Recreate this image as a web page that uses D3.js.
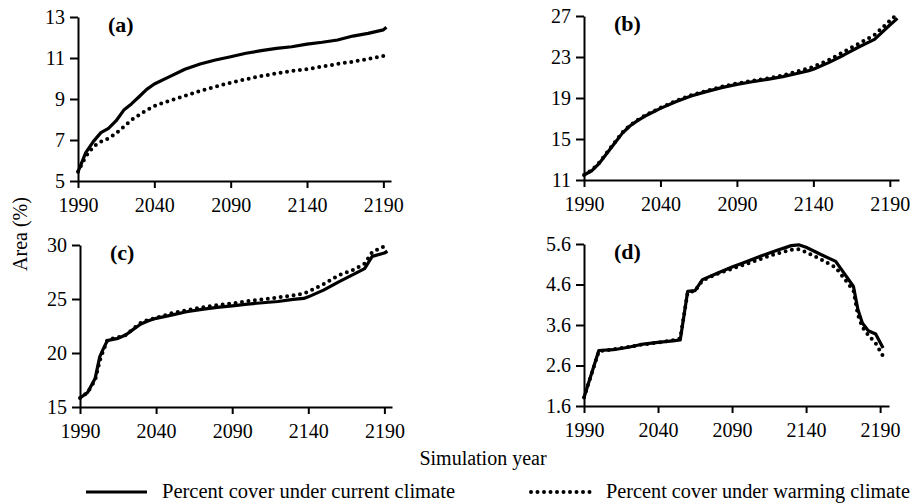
<!doctype html>
<html lang="en">
<head>
    <meta charset="UTF-8">
    <title>Percent cover under current and warming climate</title>
    <style>
        body { margin: 0; background: #fff; }
        svg { display: block; font-family: "Liberation Serif", "Times New Roman", serif; }
        .axis path, .axis line { stroke: #000; stroke-width: 2px; }
        .axis text { font-size: 20px; fill: #000; font-family: "Liberation Serif", serif; }
        .current { fill: none; stroke: #000; stroke-width: 3.2px; stroke-linejoin: round; }
        .warming { fill: none; stroke: #000; stroke-width: 4px; stroke-dasharray: 0 6.5; stroke-linecap: round; }
    </style>
</head>
<body>
<svg width="912" height="504"></svg>
<script src="https://cdn.jsdelivr.net/npm/d3@7/dist/d3.min.js"></script>
<script>
    const yearsA = [1990, 1995, 2000, 2005, 2010, 2015, 2020, 2025, 2030, 2035, 2040, 2050, 2060, 2070, 2080, 2090, 2100, 2110, 2120, 2130, 2140, 2150, 2160, 2170, 2180, 2190, 2192];
    const currentA = [5.45, 6.37, 6.92, 7.36, 7.57, 7.94, 8.46, 8.76, 9.11, 9.47, 9.73, 10.09, 10.45, 10.71, 10.90, 11.06, 11.23, 11.36, 11.47, 11.55, 11.68, 11.77, 11.88, 12.07, 12.20, 12.37, 12.50];
    const warmingA = [5.45, 6.19, 6.67, 6.92, 7.08, 7.33, 7.65, 7.98, 8.22, 8.46, 8.66, 8.92, 9.15, 9.40, 9.60, 9.80, 9.96, 10.12, 10.25, 10.37, 10.46, 10.58, 10.71, 10.82, 10.95, 11.10, 11.18];

    const yearsB = [1990, 1995, 2000, 2005, 2010, 2015, 2020, 2025, 2030, 2040, 2050, 2060, 2070, 2080, 2090, 2100, 2110, 2120, 2130, 2137, 2140, 2150, 2160, 2170, 2180, 2190, 2195];
    const currentB = [11.49, 11.90, 12.63, 13.60, 14.58, 15.55, 16.27, 16.79, 17.24, 17.99, 18.64, 19.20, 19.62, 20.01, 20.33, 20.59, 20.82, 21.08, 21.41, 21.67, 21.80, 22.45, 23.20, 24.00, 24.72, 26.12, 26.77];
    const warmingB = [11.49, 11.95, 12.70, 13.68, 14.65, 15.62, 16.33, 16.85, 17.30, 18.05, 18.70, 19.27, 19.70, 20.10, 20.42, 20.68, 20.92, 21.20, 21.63, 21.90, 22.06, 22.70, 23.52, 24.33, 25.15, 26.54, 27.20];

    const yearsC = [1990, 1995, 2000, 2003, 2005, 2008, 2010, 2015, 2020, 2025, 2030, 2035, 2040, 2050, 2060, 2070, 2080, 2090, 2100, 2110, 2120, 2130, 2137, 2140, 2150, 2160, 2170, 2177, 2182, 2190, 2192];
    const currentC = [15.83, 16.35, 17.67, 19.67, 20.29, 21.15, 21.21, 21.36, 21.67, 22.19, 22.68, 22.99, 23.21, 23.51, 23.82, 24.04, 24.22, 24.37, 24.53, 24.65, 24.77, 24.96, 25.05, 25.20, 25.82, 26.59, 27.30, 27.82, 28.95, 29.26, 29.42];
    const warmingC = [15.83, 16.35, 17.50, 19.30, 20.10, 21.20, 21.30, 21.45, 21.65, 22.25, 22.80, 23.10, 23.25, 23.67, 23.97, 24.22, 24.44, 24.59, 24.80, 24.96, 25.14, 25.33, 25.51, 25.67, 26.37, 27.20, 27.73, 28.28, 29.35, 29.88, 29.97];

    const yearsD = [1990, 2000, 2010, 2020, 2030, 2040, 2050, 2055, 2060, 2065, 2070, 2080, 2090, 2100, 2110, 2120, 2130, 2135, 2140, 2150, 2160, 2172, 2175, 2178, 2182, 2187, 2192];
    const currentD = [1.81, 2.97, 2.99, 3.05, 3.13, 3.17, 3.21, 3.23, 4.43, 4.45, 4.72, 4.88, 5.03, 5.17, 5.31, 5.44, 5.56, 5.58, 5.52, 5.34, 5.17, 4.55, 3.98, 3.65, 3.46, 3.38, 3.03];
    const warmingD = [1.81, 2.95, 3.00, 3.06, 3.12, 3.17, 3.22, 3.27, 4.40, 4.44, 4.70, 4.86, 4.99, 5.11, 5.24, 5.36, 5.46, 5.47, 5.40, 5.22, 5.02, 4.45, 3.85, 3.55, 3.35, 3.15, 2.83];

    const xTicks = [1990, 2040, 2090, 2140, 2190];
    const yTicksA = [5, 7, 9, 11, 13];
    const yTicksB = [11, 15, 19, 23, 27];
    const yTicksC = [15, 20, 25, 30];
    const yTicksD = [1.6, 2.6, 3.6, 4.6, 5.6];

    const panels = [
        {label: "(a)", years: yearsA, current: currentA, warming: warmingA, yTicks: yTicksA, fmt: d3.format("d"),
            x0: 78, x1: 391, xEnd: 2195, top: 17, bottom: 181},
        {label: "(b)", years: yearsB, current: currentB, warming: warmingB, yTicks: yTicksB, fmt: d3.format("d"),
            x0: 584, x1: 899, xEnd: 2196, top: 16, bottom: 180},
        {label: "(c)", years: yearsC, current: currentC, warming: warmingC, yTicks: yTicksC, fmt: d3.format("d"),
            x0: 80, x1: 392, xEnd: 2195, top: 245, bottom: 407},
        {label: "(d)", years: yearsD, current: currentD, warming: warmingD, yTicks: yTicksD, fmt: d3.format(".1f"),
            x0: 584, x1: 889, xEnd: 2196, top: 244, bottom: 406}
    ];

    const svg = d3.select("svg");

    panels.forEach(p => {
        const x = d3.scaleLinear().domain([1990, p.xEnd]).range([p.x0, p.x1]);
        const y = d3.scaleLinear().domain(d3.extent(p.yTicks)).range([p.bottom, p.top]);

        svg.append("g").attr("class", "axis")
            .attr("transform", "translate(0," + p.bottom + ")")
            .call(d3.axisBottom(x).tickValues(xTicks).tickFormat(d3.format("d"))
                .tickSize(7).tickSizeOuter(0).tickPadding(10));

        svg.append("g").attr("class", "axis")
            .attr("transform", "translate(" + p.x0 + ",0)")
            .call(d3.axisLeft(y).tickValues(p.yTicks).tickFormat(p.fmt)
                .tickSize(8).tickSizeOuter(0).tickPadding(5));

        const pts = k => p.years.map((yr, i) => [yr, p[k][i]]);
        const line = d3.line().x(d => x(d[0])).y(d => y(d[1]));

        svg.append("path").attr("class", "current").attr("d", line(pts("current")));
        svg.append("path").attr("class", "warming").attr("d", line(pts("warming")));

        svg.append("text")
            .attr("x", p.x0 + 30).attr("y", p.top + 15)
            .attr("font-size", 22).attr("font-weight", "bold")
            .text(p.label);
    });

    // shared axis titles
    svg.append("text")
        .attr("transform", "translate(27,234) rotate(-90)")
        .attr("text-anchor", "middle").attr("font-size", 20)
        .text("Area (%)");

    svg.append("text")
        .attr("x", 483).attr("y", 465)
        .attr("text-anchor", "middle").attr("font-size", 20)
        .text("Simulation year");

    // legend
    const legend = svg.append("g");
    legend.append("line").attr("class", "current")
        .attr("x1", 86).attr("x2", 147).attr("y1", 492).attr("y2", 492);
    legend.append("text").attr("x", 162).attr("y", 498).attr("font-size", 20)
        .attr("textLength", 293).attr("lengthAdjust", "spacingAndGlyphs")
        .text("Percent cover under current climate");
    legend.append("line").attr("class", "warming")
        .attr("x1", 531).attr("x2", 591).attr("y1", 492).attr("y2", 492);
    legend.append("text").attr("x", 606).attr("y", 498).attr("font-size", 20)
        .attr("textLength", 304).attr("lengthAdjust", "spacingAndGlyphs")
        .text("Percent cover under warming climate");
</script>
</body>
</html>
